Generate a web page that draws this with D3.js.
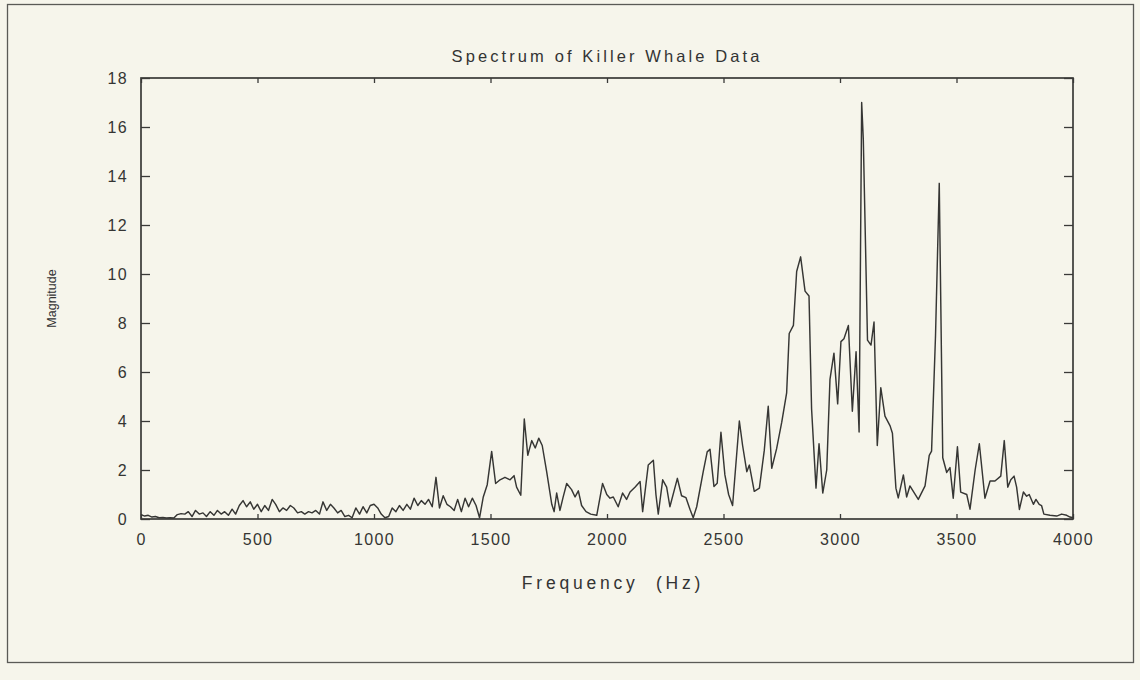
<!DOCTYPE html>
<html>
<head>
<meta charset="utf-8">
<script src="https://cdn.jsdelivr.net/npm/d3@7/dist/d3.min.js"></script>
<style>
  html, body { margin: 0; padding: 0; background: #f6f5eb; }
  svg { display: block; }
  .tick text { font-family: "Liberation Sans", "DejaVu Sans", sans-serif; fill: #353533; }
</style>
</head>
<body>
<svg id="chart" width="1140" height="680"></svg>
<script>
// Frequency bins (Hz) and spectral magnitude of the recorded killer whale call
const freqHz = [
  0, 16, 31, 47, 62, 78, 94, 109, 125, 141, 156, 172, 188, 203, 219, 234, 250, 266, 281, 297,
  313, 328, 344, 359, 375, 391, 406, 422, 438, 453, 469, 484, 500, 516, 531, 547, 563, 578, 594, 609,
  625, 641, 656, 672, 688, 703, 719, 734, 750, 766, 781, 797, 813, 828, 844, 859, 875, 891, 906, 922,
  938, 953, 969, 984, 1000, 1016, 1031, 1047, 1063, 1078, 1094, 1109, 1125, 1141, 1156, 1172, 1188, 1203, 1219, 1234,
  1250, 1266, 1281, 1297, 1313, 1328, 1344, 1359, 1375, 1391, 1406, 1422, 1438, 1453, 1469, 1486, 1505, 1522, 1541, 1562,
  1584, 1601, 1612, 1630, 1645, 1660, 1677, 1692, 1707, 1722, 1741, 1763, 1773, 1784, 1798, 1812, 1827, 1848, 1863, 1877,
  1891, 1910, 1930, 1956, 1981, 1999, 2013, 2027, 2048, 2067, 2084, 2099, 2120, 2142, 2153, 2177, 2199, 2210, 2220, 2239,
  2256, 2270, 2302, 2320, 2339, 2356, 2370, 2385, 2413, 2430, 2442, 2459, 2473, 2489, 2506, 2522, 2539, 2568, 2582, 2600,
  2611, 2632, 2654, 2675, 2692, 2707, 2728, 2750, 2771, 2782, 2800, 2814, 2831, 2850, 2867, 2878, 2897, 2910, 2926, 2943,
  2957, 2974, 2990, 3004, 3017, 3036, 3053, 3069, 3082, 3093, 3100, 3118, 3133, 3146, 3160, 3175, 3193, 3215, 3225, 3240,
  3250, 3272, 3286, 3300, 3336, 3365, 3383, 3393, 3410, 3426, 3441, 3458, 3472, 3486, 3504, 3518, 3544, 3558, 3580, 3598,
  3622, 3644, 3665, 3690, 3705, 3720, 3733, 3747, 3758, 3770, 3787, 3801, 3812, 3830, 3841, 3855, 3865, 3875, 3901, 3930,
  3951, 3973, 3987, 4000
];
const magnitude = [
  0.18, 0.12, 0.15, 0.08, 0.1, 0.05, 0.06, 0.04, 0.05, 0.04, 0.18, 0.22, 0.2, 0.3, 0.1, 0.35, 0.2, 0.25, 0.1, 0.3,
  0.15, 0.35, 0.2, 0.3, 0.15, 0.4, 0.2, 0.55, 0.75, 0.5, 0.7, 0.4, 0.6, 0.3, 0.55, 0.35, 0.8, 0.6, 0.3, 0.45,
  0.35, 0.55, 0.45, 0.25, 0.3, 0.2, 0.3, 0.25, 0.35, 0.2, 0.7, 0.35, 0.6, 0.45, 0.25, 0.35, 0.1, 0.15, 0.05, 0.45,
  0.2, 0.5, 0.25, 0.55, 0.6, 0.45, 0.2, 0.05, 0.1, 0.45, 0.3, 0.55, 0.35, 0.6, 0.4, 0.85, 0.55, 0.75, 0.6, 0.8,
  0.5, 1.7, 0.45, 0.95, 0.6, 0.5, 0.35, 0.8, 0.3, 0.85, 0.5, 0.85, 0.55, 0.05, 0.9, 1.4, 2.76, 1.45, 1.6, 1.7,
  1.6, 1.77, 1.3, 0.97, 4.08, 2.6, 3.2, 2.9, 3.3, 3.0, 1.93, 0.6, 0.3, 1.06, 0.35, 0.9, 1.45, 1.2, 0.9, 1.15,
  0.55, 0.3, 0.2, 0.15, 1.45, 1.0, 0.85, 0.9, 0.5, 1.06, 0.8, 1.1, 1.3, 1.53, 0.3, 2.2, 2.4, 1.0, 0.2, 1.6,
  1.3, 0.5, 1.66, 0.95, 0.87, 0.4, 0.05, 0.5, 1.93, 2.74, 2.85, 1.33, 1.46, 3.54, 1.8, 1.0, 0.55, 4.0, 3.0, 1.93,
  2.2, 1.13, 1.26, 2.8, 4.6, 2.07, 2.87, 3.95, 5.15, 7.57, 7.9, 10.1, 10.7, 9.3, 9.1, 4.5, 1.26, 3.07, 1.06, 2.0,
  5.7, 6.77, 4.7, 7.24, 7.36, 7.9, 4.4, 6.83, 3.55, 17.0, 15.5, 7.3, 7.1, 8.04, 3.0, 5.36, 4.2, 3.8, 3.5, 1.26,
  0.86, 1.8, 0.9, 1.35, 0.8, 1.35, 2.6, 2.77, 7.5, 13.7, 2.5, 1.9, 2.1, 0.85, 2.95, 1.1, 1.0, 0.4, 2.0, 3.07,
  0.85, 1.55, 1.55, 1.75, 3.2, 1.3, 1.6, 1.75, 1.3, 0.39, 1.1, 0.93, 1.0, 0.6, 0.8, 0.6, 0.55, 0.2, 0.15, 0.12,
  0.2, 0.15, 0.08, 0.05
];
const xTicks = [0, 500, 1000, 1500, 2000, 2500, 3000, 3500, 4000];
const yTicks = [0, 2, 4, 6, 8, 10, 12, 14, 16, 18];

const svg = d3.select("#chart");
const W = 1140, H = 680;
const m = { left: 141, right: 1073, top: 78, bottom: 519 };
const ink = "#3a3a38";
const font = "Liberation Sans, DejaVu Sans, sans-serif";

// page background and outer border
svg.append("rect").attr("width", W).attr("height", H).attr("fill", "#f6f5eb");
svg.append("rect")
  .attr("x", 7.5).attr("y", 4.5).attr("width", 1126).attr("height", 658)
  .attr("fill", "none").attr("stroke", "#5a5a56").attr("stroke-width", 1.3);

const x = d3.scaleLinear().domain([0, 4000]).range([m.left, m.right]);
const y = d3.scaleLinear().domain([0, 18]).range([m.bottom, m.top]);

// bottom axis with labels, ticks pointing into the plot
const gx = svg.append("g").attr("transform", `translate(0,${m.bottom})`)
  .call(d3.axisBottom(x).tickValues(xTicks).tickSize(-5).tickPadding(15).tickFormat(d3.format("d")));
// top axis, ticks only
const gxt = svg.append("g").attr("transform", `translate(0,${m.top})`)
  .call(d3.axisTop(x).tickValues(xTicks).tickSize(-5).tickFormat(""));
// left axis with labels
const gy = svg.append("g").attr("transform", `translate(${m.left},0)`)
  .call(d3.axisLeft(y).tickValues(yTicks).tickSize(-9).tickPadding(13).tickFormat(d3.format("d")));
// right axis, ticks only
const gyr = svg.append("g").attr("transform", `translate(${m.right},0)`)
  .call(d3.axisRight(y).tickValues(yTicks).tickSize(-9).tickFormat(""));

[gx, gxt, gy, gyr].forEach(g => {
  g.select(".domain").remove();
  g.selectAll(".tick line").attr("stroke", ink).attr("stroke-width", 1.3);
  g.selectAll(".tick text").attr("font-size", 16).style("letter-spacing", "1.3px");
});

// plot frame
svg.append("rect")
  .attr("x", m.left).attr("y", m.top)
  .attr("width", m.right - m.left).attr("height", m.bottom - m.top)
  .attr("fill", "none").attr("stroke", ink).attr("stroke-width", 1.7);

// spectrum trace
const line = d3.line().x((d, i) => x(freqHz[i])).y(d => y(d));
svg.append("path")
  .datum(magnitude)
  .attr("d", line)
  .attr("fill", "none")
  .attr("stroke", "#363634")
  .attr("stroke-width", 1.45)
  .attr("stroke-linejoin", "round");

// titles
svg.append("text")
  .attr("x", (m.left + m.right) / 2).attr("y", 62)
  .attr("text-anchor", "middle")
  .attr("font-family", font)
  .attr("font-size", 16.5).style("letter-spacing", "3.1px")
  .attr("fill", "#333")
  .text("Spectrum of Killer Whale Data");

svg.append("text")
  .attr("x", (m.left + m.right) / 2 + 6).attr("y", 589)
  .attr("text-anchor", "middle")
  .attr("font-family", font)
  .attr("font-size", 17.5).style("letter-spacing", "3.8px")
  .attr("fill", "#333")
  .style("white-space", "pre")
  .text("Frequency  (Hz)");

svg.append("text")
  .attr("transform", `translate(56,${(m.top + m.bottom) / 2}) rotate(-90)`)
  .attr("text-anchor", "middle")
  .attr("font-family", font)
  .attr("font-size", 12.5)
  .attr("fill", "#333")
  .text("Magnitude");
</script>
</body>
</html>
